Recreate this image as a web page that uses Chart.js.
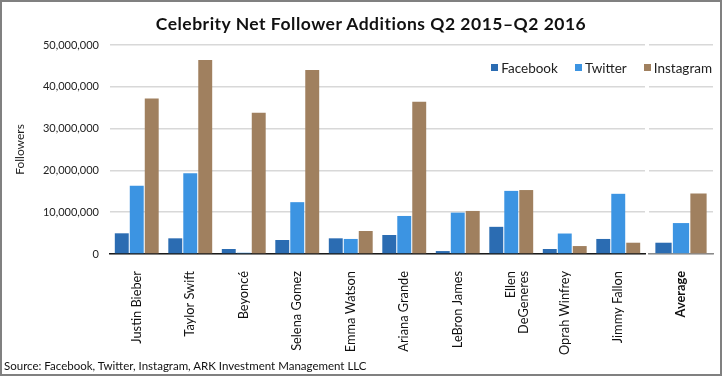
<!DOCTYPE html>
<html>
<head>
<meta charset="utf-8">
<script src="https://cdn.jsdelivr.net/npm/chart.js@4/dist/chart.umd.min.js"></script>
<style>
  html, body { margin: 0; padding: 0; background: #fff; }
  #wrap { position: relative; width: 723px; height: 376px; overflow: hidden; font-family: Lato, sans-serif; }
  #frame { position: absolute; left: 0; top: 0; width: 722px; height: 376px; box-sizing: border-box; border: 2px solid #808080; }
  canvas { position: absolute; top: 0; }
  #main { left: 0; }
  #avg { left: 647px; }
  #title { position: absolute; top: 13px; left: 0; width: 742px; text-align: center; font-weight: bold; font-size: 17.5px; letter-spacing: 0.5px; color: #111; }
  #legend { position: absolute; top: 60px; right: 11px; display: flex; font-size: 13.5px; color: #222; }
  #legend span.item { display: flex; align-items: flex-start; margin-left: 17px; }
  #legend i { display: inline-block; width: 7px; height: 7px; margin-top: 4px; margin-right: 3px; }
  #source { position: absolute; left: 4px; top: 359px; font-size: 11.5px; color: #111; }
</style>
</head>
<body>
<div id="wrap">
  <div id="frame"></div>
  <canvas id="main" width="647" height="376"></canvas>
  <canvas id="avg" width="76" height="376"></canvas>
  <div id="title">Celebrity Net Follower Additions Q2 2015–Q2 2016</div>
  <div id="legend"></div>
  <div id="source">Source: Facebook, Twitter, Instagram, ARK Investment Management LLC</div>
</div>
<script>
'use strict';

// data
var names = ['Justin Bieber', 'Taylor Swift', 'Beyoncé', 'Selena Gomez', 'Emma Watson',
             'Ariana Grande', 'LeBron James', ['Ellen', 'DeGeneres'], 'Oprah Winfrey', 'Jimmy Fallon'];
var facebook  = [4950000, 3750000, 1200000, 3350000, 3750000, 4550000, 700000, 6500000, 1200000, 3600000];
var twitter   = [16300000, 19300000, 300000, 12400000, 3600000, 9100000, 9900000, 15100000, 4900000, 14400000];
var instagram = [37200000, 46400000, 33800000, 44000000, 5500000, 36400000, 10300000, 15300000, 1900000, 2700000];
var avgLabel = ['Average'];
var avgFacebook = [2700000];
var avgTwitter = [7400000];
var avgInstagram = [14500000];
var yTicks = [0, 10000000, 20000000, 30000000, 40000000, 50000000];

var colFb = '#2b6cb2';
var colTw = '#3c94e2';
var colIg = '#a0805f';

function makeSets(fb, tw, ig, cat) {
    var list = [['Facebook', fb, colFb], ['Twitter', tw, colTw], ['Instagram', ig, colIg]];
    return list.map(function (d) {
        return {
            label: d[0], data: d[1], backgroundColor: d[2],
            categoryPercentage: cat, barPercentage: 0.93
        };
    });
}

function yAxis(showLabels) {
    return {
        min: yTicks[0], max: yTicks[yTicks.length - 1],
        afterBuildTicks: function (s) { s.ticks = yTicks.map(function (v) { return { value: v }; }); },
        afterFit: function (s) { s.width = showLabels ? 110 : 0; },
        border: { display: false },
        grid: { color: '#d8d8d8', lineWidth: 1.5, drawTicks: false },
        title: {
            display: showLabels, text: 'Followers', color: '#222',
            font: { family: 'Lato', size: 12 }, padding: { top: 13, bottom: 0 }
        },
        ticks: {
            display: showLabels, padding: 11, color: '#222',
            font: { family: 'Lato', size: 11 },
            callback: function (v) { return v.toLocaleString('en-US'); }
        }
    };
}

function xAxis(lineColor, bold) {
    return {
        afterFit: function (s) { s.height = 122; },
        grid: { display: false },
        border: { display: true, color: lineColor, width: 1.5 },
        ticks: {
            autoSkip: false, minRotation: 90, maxRotation: 90, padding: 9, color: '#111',
            font: { family: 'Lato', size: 12.8, weight: bold ? 'bold' : 'normal', lineHeight: 1.0 }
        }
    };
}

var common = {
    responsive: false,
    animation: false,
    plugins: { legend: { display: false }, tooltip: { enabled: false } }
};

new Chart(document.getElementById('main').getContext('2d'), {
    type: 'bar',
    data: { labels: names, datasets: makeSets(facebook, twitter, instagram, 0.84) },
    options: Object.assign({}, common, {
        layout: { padding: { left: 0, right: 2, top: 45, bottom: 0 } },
        scales: { x: xAxis('#1a1a1a', false), y: yAxis(true) }
    })
});

new Chart(document.getElementById('avg').getContext('2d'), {
    type: 'bar',
    data: { labels: avgLabel, datasets: makeSets(avgFacebook, avgTwitter, avgInstagram, 0.82) },
    options: Object.assign({}, common, {
        layout: { padding: { left: 2, right: 10, top: 45, bottom: 0 } },
        scales: { x: xAxis('#8a8a8a', true), y: yAxis(false) }
    })
});

// legend
var legend = document.getElementById('legend');
[['Facebook', colFb], ['Twitter', colTw], ['Instagram', colIg]].forEach(function (it) {
    var s = document.createElement('span');
    s.className = 'item';
    s.innerHTML = '<i style="background:' + it[1] + '"></i>' + it[0];
    legend.appendChild(s);
});
</script>
</body>
</html>
